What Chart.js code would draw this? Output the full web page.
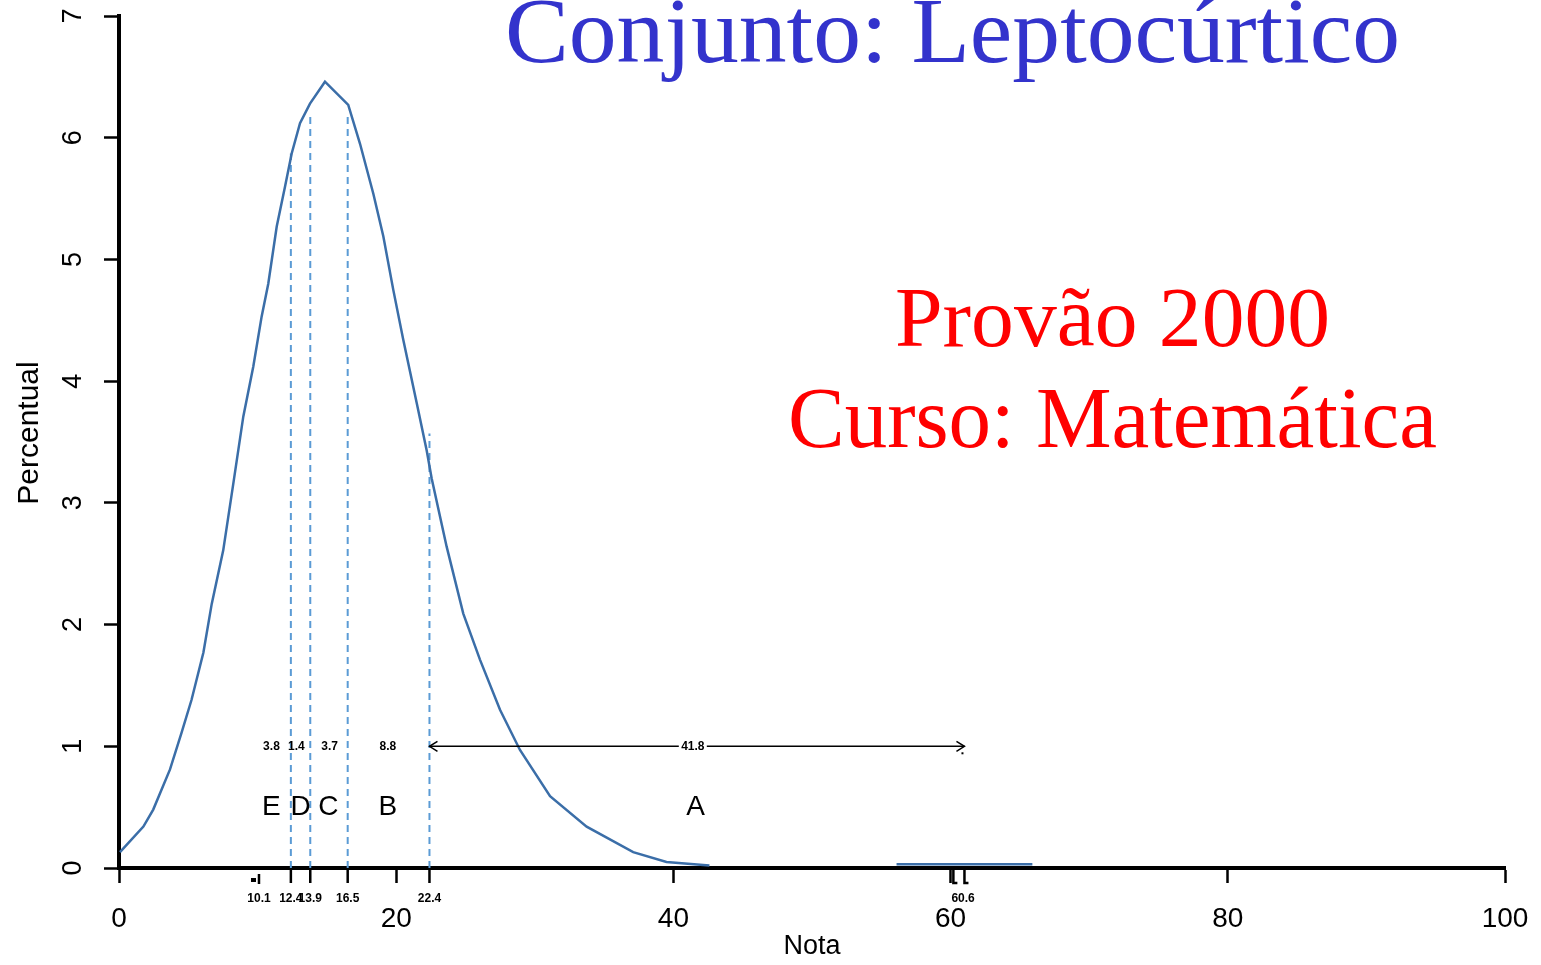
<!DOCTYPE html>
<html lang="pt-BR">
<head>
<meta charset="UTF-8">
<title>Conjunto: Leptocúrtico</title>
<style>
  html, body { margin: 0; padding: 0; background: #fff; }
  #caixa { width: 1541px; height: 965px; }
</style>
</head>
<body>
<div id="caixa"><canvas id="grafico"></canvas></div>

<script src="https://cdn.jsdelivr.net/npm/chart.js"></script>
<script>
// curva (nota x percentual)
const notas = [0.07, 1.76, 2.47, 3.68, 4.51, 5.23, 6.09, 6.69, 7.52, 8.25, 8.97, 9.69,
  10.29, 10.77, 11.38, 11.98, 12.46, 13.06, 13.78, 14.86, 16.54, 17.39, 18.35, 19.07,
  19.79, 20.51, 21.48, 22.2, 22.56, 23.64, 24.84, 26.05, 27.49, 28.93, 31.1, 33.74,
  37.1, 39.5, 42.6];
const percentual = [0.13, 0.34, 0.48, 0.81, 1.11, 1.38, 1.77, 2.17, 2.61, 3.16, 3.71, 4.12,
  4.53, 4.8, 5.27, 5.6, 5.87, 6.12, 6.28, 6.46, 6.27, 5.95, 5.54, 5.19,
  4.75, 4.34, 3.82, 3.43, 3.2, 2.64, 2.09, 1.71, 1.3, 0.97, 0.59, 0.34,
  0.13, 0.05, 0.02];
// pedaco isolado perto de 60
const notasCauda = [56.1, 65.9];
const percentualCauda = [0.03, 0.03];

// limites dos conceitos (linhas tracejadas)
const cortes = [12.4, 13.8, 16.5, 22.4];
const alturaCortes = [5.87, 6.19, 6.17, 3.57];
const rotulosCortes = ['12.4', '13.9', '16.5', '22.4'];

const conceitos = ['E', 'D', 'C', 'B', 'A'];
const posConceitos = [11.0, 13.1, 15.1, 19.4, 41.6];
const valoresConceitos = ['3.8', '1.4', '3.7', '8.8', '41.8'];
const posValores = [11.0, 12.8, 15.2, 19.4, 41.4];

const ticksX = [0, 20, 40, 60, 80, 100];
const ticksY = [0, 1, 2, 3, 4, 5, 6, 7];

var pontosCurva = notas.map((n, i) => ({ x: n, y: percentual[i] }));
pontosCurva.push({ x: 49, y: null });
notasCauda.forEach((n, i) => pontosCurva.push({ x: n, y: percentualCauda[i] }));

var datasets = [{
  data: pontosCurva,
  borderColor: '#3b6ea8',
  borderWidth: 2.5,
  pointRadius: 0,
  tension: 0,
  spanGaps: false
}];
cortes.forEach((c, i) => {
  datasets.push({
    data: [{ x: c, y: 0 }, { x: c, y: alturaCortes[i] }],
    borderColor: '#5b9bd5',
    borderWidth: 2,
    borderDash: [7, 5],
    pointRadius: 0
  });
});

function textoAjustado(ctx, txt, esquerda, base, largura, fonte, cor) {
  ctx.font = fonte;
  var w = ctx.measureText(txt).width;
  ctx.save();
  ctx.translate(esquerda, base);
  ctx.scale(largura / w, 1);
  ctx.fillStyle = cor;
  ctx.textAlign = 'left';
  ctx.textBaseline = 'alphabetic';
  ctx.fillText(txt, 0, 0);
  ctx.restore();
}

const anotacoes = {
  id: 'anotacoes',
  afterDraw(chart) {
    const ctx = chart.ctx, sx = chart.scales.x, sy = chart.scales.y;
    const base = chart.chartArea.bottom;
    ctx.save();
    ctx.fillStyle = '#000';
    ctx.strokeStyle = '#000';

    // rotulos do eixo y (girados, estilo R)
    ctx.font = '27px "Liberation Sans"';
    ctx.textAlign = 'center';
    ctx.textBaseline = 'middle';
    ticksY.forEach(v => {
      ctx.save();
      ctx.translate(74, sy.getPixelForValue(v));
      ctx.rotate(-Math.PI / 2);
      ctx.fillText(String(v), 0, 0);
      ctx.restore();
    });
    ctx.save();
    ctx.translate(30, 433);
    ctx.rotate(-Math.PI / 2);
    ctx.font = '30px "Liberation Sans"';
    ctx.fillText('Percentual', 0, 0);
    ctx.restore();

    // marcas extras no eixo x
    ctx.lineWidth = 2.5;
    cortes.forEach(c => {
      var px = sx.getPixelForValue(c);
      ctx.beginPath(); ctx.moveTo(px, base); ctx.lineTo(px, base + 15); ctx.stroke();
    });
    var p10 = sx.getPixelForValue(10.1);
    ctx.beginPath(); ctx.moveTo(p10, base + 6); ctx.lineTo(p10, base + 16); ctx.stroke();
    ctx.fillRect(p10 - 8, base + 10, 5, 4);
    [60.2, 61.0].forEach(v => {
      var px = sx.getPixelForValue(v);
      ctx.beginPath(); ctx.moveTo(px, base); ctx.lineTo(px, base + 15); ctx.lineTo(px + 4, base + 15); ctx.stroke();
    });
    ctx.font = 'bold 12px "Liberation Sans"';
    ctx.textAlign = 'center';
    ctx.fillText('10.1', p10, base + 31);
    cortes.forEach((c, i) => ctx.fillText(rotulosCortes[i], sx.getPixelForValue(c), base + 31));
    ctx.fillText('60.6', sx.getPixelForValue(60.9), base + 31);

    // seta do conceito A
    var y1 = sy.getPixelForValue(1);
    var a0 = sx.getPixelForValue(22.4), a1 = sx.getPixelForValue(61.0);
    ctx.lineWidth = 1.5;
    ctx.beginPath(); ctx.moveTo(a0, y1); ctx.lineTo(a1, y1); ctx.stroke();
    ctx.beginPath(); ctx.moveTo(a0 + 8, y1 - 5); ctx.lineTo(a0, y1); ctx.lineTo(a0 + 8, y1 + 5); ctx.stroke();
    ctx.beginPath(); ctx.moveTo(a1 - 8, y1 - 5); ctx.lineTo(a1, y1); ctx.lineTo(a1 - 8, y1 + 5); ctx.stroke();
    ctx.fillRect(a1 - 3, y1 + 6, 2, 2);

    // valores e letras dos conceitos
    ctx.font = 'bold 12px "Liberation Sans"';
    valoresConceitos.forEach((t, i) => {
      var px = sx.getPixelForValue(posValores[i]);
      if (i === 4) {
        ctx.fillStyle = '#fff';
        ctx.fillRect(px - 14, y1 - 6, 28, 12);
        ctx.fillStyle = '#000';
      }
      ctx.fillText(t, px, y1);
    });
    ctx.font = '28px "Liberation Sans"';
    conceitos.forEach((t, i) => ctx.fillText(t, sx.getPixelForValue(posConceitos[i]), sy.getPixelForValue(0.5)));

    // titulos
    textoAjustado(ctx, 'Conjunto: Leptocúrtico', 505, 62, 895, '94px "Liberation Serif"', '#3333cc');
    textoAjustado(ctx, 'Provão 2000', 895, 346, 435, '85px "Liberation Serif"', '#ff0000');
    textoAjustado(ctx, 'Curso: Matemática', 788, 447, 649, '86px "Liberation Serif"', '#ff0000');
    ctx.restore();
  }
};

new Chart(document.getElementById('grafico'), {
  type: 'line',
  data: { datasets: datasets },
  options: {
    responsive: true,
    maintainAspectRatio: false,
    animation: false,
    layout: { padding: { top: 16, right: 36, left: 0, bottom: 0 } },
    plugins: { legend: { display: false }, tooltip: { enabled: false } },
    scales: {
      x: {
        type: 'linear',
        min: 0,
        max: 100,
        afterBuildTicks: s => { s.ticks = ticksX.map(v => ({ value: v })); },
        afterFit: s => { s.height = 97; s.paddingLeft = 0; s.paddingRight = 0; },
        grid: { drawOnChartArea: false, tickLength: 15, tickColor: '#000', tickWidth: 2.5 },
        border: { color: '#000', width: 4 },
        ticks: { color: '#000', font: { family: 'Liberation Sans', size: 28 }, padding: 19, maxRotation: 0 },
        title: { display: true, text: 'Nota', color: '#000', font: { family: 'Liberation Sans', size: 27 }, padding: { top: 0, bottom: 2 } }
      },
      y: {
        min: 0,
        max: 7,
        afterBuildTicks: s => { s.ticks = ticksY.map(v => ({ value: v })); },
        afterFit: s => { s.width = 119; s.paddingTop = 0; s.paddingBottom = 0; },
        grid: { drawOnChartArea: false, tickLength: 15, tickColor: '#000', tickWidth: 2.5 },
        border: { color: '#000', width: 4 },
        ticks: { display: false }
      }
    }
  },
  plugins: [anotacoes]
});
</script>
</body>
</html>
